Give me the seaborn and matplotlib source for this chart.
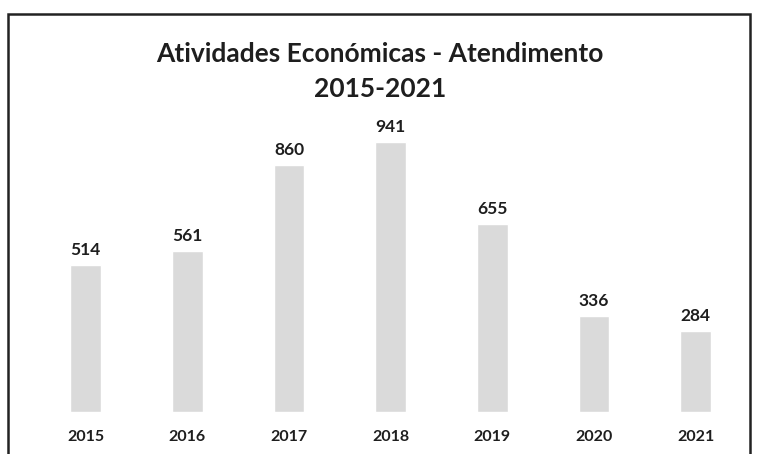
import pandas as pd
import matplotlib.pyplot as plt
import seaborn as sns
from matplotlib.patches import Rectangle

sns.set_style("white")
plt.rcParams['font.family'] = ['Lato', 'DejaVu Sans']

# Data
years = ['2015', '2016', '2017', '2018', '2019', '2020', '2021']
atendimentos = [514, 561, 860, 941, 655, 336, 284]

df = pd.DataFrame({'Ano': years, 'Atendimentos': atendimentos})

fig = plt.figure(figsize=(7.57, 4.54), dpi=100)
ax = fig.add_axes([0.046, 0.0925, 0.94, 0.632])

sns.barplot(x='Ano', y='Atendimentos', data=df, color='#dadada',
            width=0.3, saturation=1, ax=ax)

ax.set_ylim(0, 1000)
ax.set_xlim(-0.5, 6.5)
ax.set_xlabel('')
ax.set_ylabel('')
ax.set_yticks([])
ax.tick_params(axis='x', length=0, pad=13, labelsize=11.5)
for lbl in ax.get_xticklabels():
    lbl.set_fontweight('bold')
    lbl.set_color('#1e1e1e')
sns.despine(ax=ax, left=True, bottom=True)

for i, v in enumerate(atendimentos):
    ax.text(i, v + 24, str(v), ha='center', va='bottom',
            fontsize=12.5, fontweight='bold', color='#1e1e1e')

fig.text(0.502, 0.88, 'Atividades Económicas - Atendimento', ha='center',
         va='center', fontsize=19, fontweight='bold', color='#1e1e1e')
fig.text(0.502, 0.805, '2015-2021', ha='center', va='center',
         fontsize=19, fontweight='bold', color='#1e1e1e')

# Outer frame of the original chart box
fig.patches.append(Rectangle((0.011, -0.1), 0.98, 1.069, transform=fig.transFigure,
                             fill=False, edgecolor='#222222', linewidth=1.8))

plt.savefig('out.png', dpi=100)
